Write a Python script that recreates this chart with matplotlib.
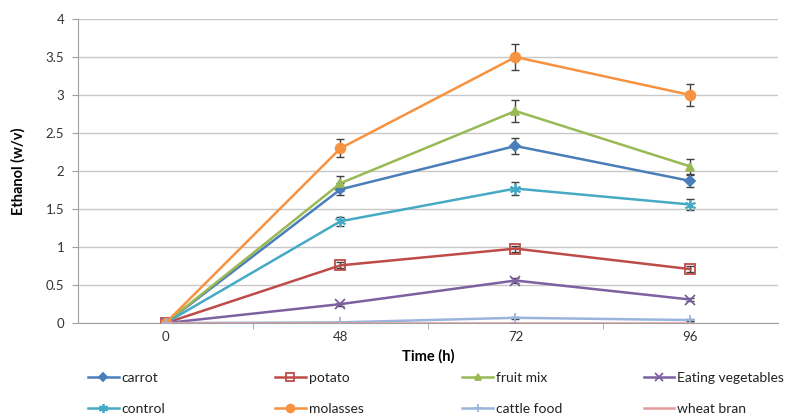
import numpy as np
import matplotlib.pyplot as plt
import matplotlib

matplotlib.rcParams['font.family'] = ['Lato', 'DejaVu Sans']

# data
times = ['0', '48', '72', '96']
carrot = [0, 1.76, 2.33, 1.87]
carrot_err = [0, 0.08, 0.11, 0.08]
potato = [0, 0.76, 0.98, 0.71]
potato_err = [0, 0.04, 0.04, 0.04]
fruit_mix = [0, 1.84, 2.79, 2.06]
fruit_mix_err = [0, 0.10, 0.14, 0.10]
eating_veg = [0, 0.25, 0.56, 0.31]
eating_veg_err = [0, 0.02, 0.03, 0.02]
control = [0, 1.34, 1.77, 1.56]
control_err = [0, 0.06, 0.08, 0.07]
molasses = [0, 2.30, 3.50, 3.00]
molasses_err = [0, 0.12, 0.17, 0.15]
cattle_food = [0, 0.01, 0.07, 0.04]
cattle_food_err = [0, 0.01, 0.01, 0.01]
wheat_bran = [0, 0, 0, 0]
wheat_bran_err = [0, 0, 0, 0]

series = [
    ('carrot', carrot, carrot_err, '#4A7EBB', 'D', 5, None),
    ('potato', potato, potato_err, '#BE4B48', 's', 7, 'none'),
    ('fruit mix', fruit_mix, fruit_mix_err, '#98B954', '^', 6, None),
    ('Eating vegetables', eating_veg, eating_veg_err, '#7D60A0', 'x', 7, None),
    ('control', control, control_err, '#46AAC5', (6, 2, 0), 8, None),
    ('molasses', molasses, molasses_err, '#F69240', 'o', 7, None),
    ('cattle food', cattle_food, cattle_food_err, '#9AB5DD', '+', 7, None),
    ('wheat bran', wheat_bran, wheat_bran_err, '#E39A9A', None, 0, None),
]

fig = plt.figure(figsize=(7.93, 4.18), dpi=100)
ax = fig.add_axes([0.0984, 0.227, 0.8826, 0.7275])

x = np.arange(len(times))
handles = []
for name, vals, err, col, mk, ms, mfc in series:
    ax.errorbar(x, vals, yerr=err, fmt='none', ecolor='#404040', elinewidth=1,
                capsize=3, capthick=1, zorder=2)
    h, = ax.plot(x, vals, color=col, lw=1.8, marker=mk, markersize=ms,
                 markerfacecolor=(mfc if mfc else col), markeredgecolor=col,
                 markeredgewidth=1.3, label=name, zorder=3)
    handles.append(h)

ax.set_xlim(-0.5, len(times) - 0.5)
ax.set_ylim(0, 4)
ax.set_yticks(np.arange(0, 4.01, 0.5))
ax.set_yticklabels(['0', '0.5', '1', '1.5', '2', '2.5', '3', '3.5', '4'])
ax.set_xticks(x)
ax.set_xticklabels(times)
ax.set_xticks(np.arange(0.5, len(times) - 0.5, 1), minor=True)
ax.tick_params(axis='x', which='major', length=0, pad=6, labelsize=9.5, colors='#333333')
ax.tick_params(axis='x', which='minor', length=4, color='#A0A0A0')
ax.tick_params(axis='y', length=4, color='#A0A0A0', labelsize=9.5, labelcolor='#333333', pad=6)
ax.grid(axis='y', color='#C8C8C8', lw=1)
ax.set_axisbelow(True)
for s in ['top', 'right']:
    ax.spines[s].set_visible(False)
for s in ['left', 'bottom']:
    ax.spines[s].set_color('#A0A0A0')

ax.set_xlabel('Time (h)', fontweight='bold', fontsize=10.5, labelpad=4)
ax.set_ylabel('Ethanol (w/v)', fontweight='bold', fontsize=10.5, labelpad=14)

# legend: 4 columns x 2 rows, entries placed one by one
col_x = [0.111, 0.347, 0.583, 0.812]
row_y = [0.095, 0.022]
for i, h in enumerate(handles):
    r, c = divmod(i, 4)
    leg = fig.legend(handles=[h], loc='center left', bbox_to_anchor=(col_x[c], row_y[r]),
                     frameon=False, fontsize=10, handlelength=2.2, handletextpad=0.2,
                     borderaxespad=0, borderpad=0, markerscale=0.8)
    for t in leg.get_texts():
        t.set_color('#222222')

fig.savefig('out.png', dpi=100)
